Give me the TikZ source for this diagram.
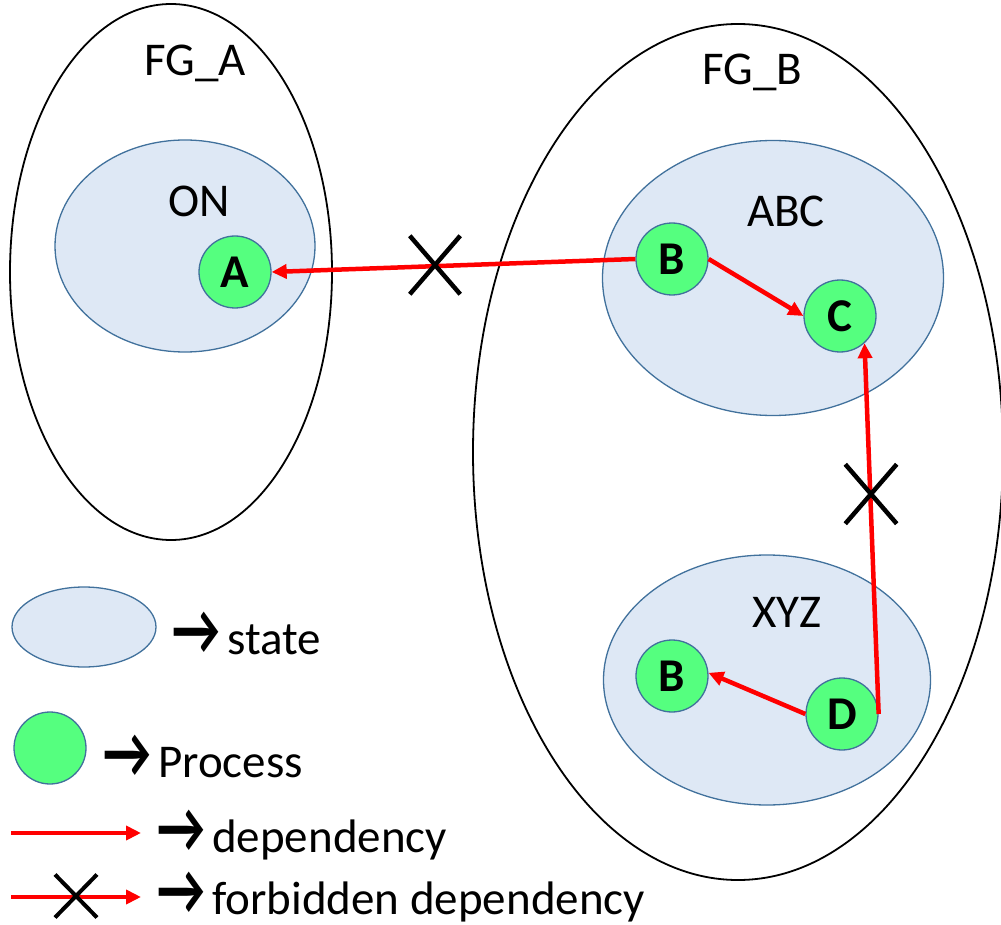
\documentclass[tikz,border=0pt]{standalone}
\usepackage{fontspec}
\usepackage{graphicx}
\setmainfont{Carlito}
\usetikzlibrary{shapes.geometric,shapes.misc,arrows.meta}

\definecolor{stateblue}{HTML}{DEE8F5}
\definecolor{stateline}{HTML}{41719C}
\definecolor{procgreen}{HTML}{55FF7F}
\definecolor{deporange}{HTML}{FF0000}

% legend pointer glyph, set in a fixed-width box
\newcommand{\lgarrow}{\makebox[55pt][l]{\scalebox{1.12}[1.55]{\bfseries →}}}

\tikzset{
  group/.style={draw=black, line width=1.8pt, ellipse, inner sep=0pt},
  statebox/.style={draw=stateline, fill=stateblue, line width=1.3pt, ellipse, inner sep=0pt},
  proc/.style={draw=stateline, fill=procgreen, line width=1.3pt, circle, inner sep=0pt,
    minimum size=72pt, font=\fontsize{47}{56}\selectfont\bfseries},
  lbl/.style={inner sep=0pt, anchor=base west, font=\fontsize{47}{56}\selectfont},
  dep/.style={draw=deporange, line width=4.5pt, -{Triangle[length=15pt,width=14pt]}},
  forbid/.style={draw=black, line width=4.5pt, cross out, inner sep=0pt}
}

\begin{document}
\begin{tikzpicture}[x=1pt,y=-1pt]
\useasboundingbox (0,0) rectangle (1001,925);

% functional groups
\node[group, minimum width=322pt, minimum height=536pt] (fga) at (171,272) {};
\node[group, minimum width=530pt, minimum height=856pt] (fgb) at (738,452) {};
\node[lbl] (fgalbl) at (144,76) {FG\_A};
\node[lbl] (fgblbl) at (702,85) {FG\_B};

% states
\node[statebox, minimum width=260pt, minimum height=212pt] (on) at (185,246) {};
\node[statebox, minimum width=341pt, minimum height=275pt] (abc) at (773,278) {};
\node[statebox, minimum width=327pt, minimum height=250pt] (xyz) at (767,680) {};
\node[lbl] (onlbl) at (168,217) {ON};
\node[lbl] (abclbl) at (747,227) {ABC};
\node[lbl] (xyzlbl) at (752,627) {XYZ};

% processes
\node[proc] (A) at (235,272) {A};
\node[proc] (Ba) at (672,259) {B};
\node[proc] (C) at (840,316) {C};
\node[proc] (Bx) at (672,676) {B};
\node[proc] (D) at (842,714) {D};

% dependencies
\draw[dep] (Ba.west) -- (A.east);
\draw[dep] (Ba.east) -- (C.west);
\draw[dep] (D.east) -- (C.-48);
\draw[dep] (D.west) -- (Bx.5);

% forbidden marks
\node[forbid, minimum width=46pt, minimum height=54pt] (x1) at (435,265) {};
\node[forbid, minimum width=47pt, minimum height=55pt] (x2) at (871,494) {};

% legend
\node[statebox, minimum width=144pt, minimum height=80pt] (lgstate) at (84,627) {};
\node[lbl] (lgstatetxt) at (172,654) {\lgarrow state};
\node[proc] (lgproc) at (50,748) {};
\node[lbl] (lgproctxt) at (103,777) {\lgarrow Process};

\coordinate (d1s) at (11,833);
\coordinate (d1e) at (141,833);
\draw[dep] (d1s) -- (d1e);
\node[lbl] (lgdeptxt) at (157,852) {\lgarrow dependency};

\coordinate (d2s) at (11,897);
\coordinate (d2e) at (141,897);
\draw[dep] (d2s) -- (d2e);
\node[forbid, line width=4pt, minimum width=38pt, minimum height=39pt] (x3) at (76,896) {};
\node[lbl] (lgforbtxt) at (157,914) {\lgarrow forbidden dependency};
\end{tikzpicture}
\end{document}
